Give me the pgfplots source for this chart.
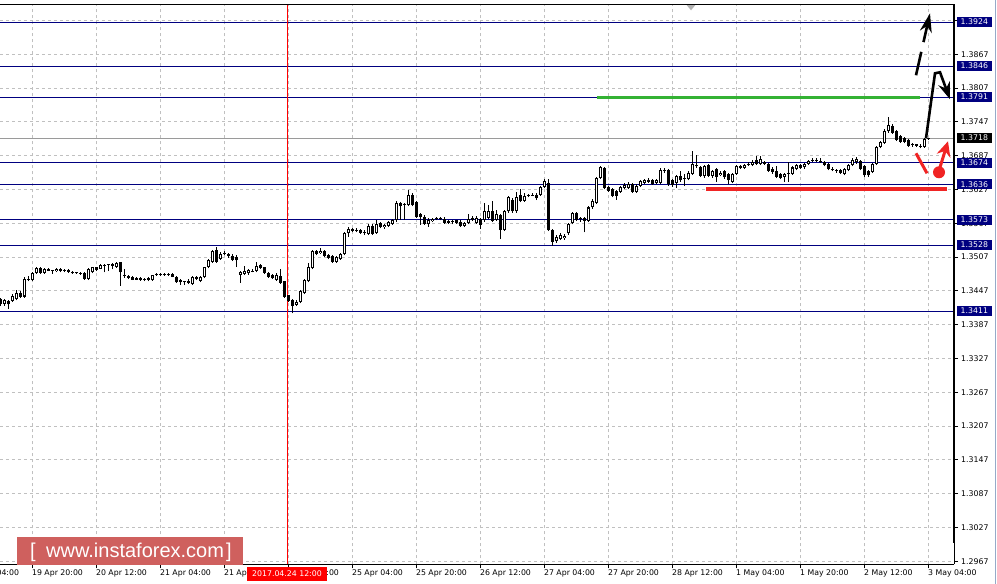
\documentclass[border=0pt]{standalone}
\usepackage{fontspec}
\setmainfont{DejaVu Sans}
\newfontfamily\lib{Liberation Sans}
\usepackage{pgfplots}
\pgfplotsset{compat=1.18}
\usepackage{pgfplotstable}
\usetikzlibrary{arrows.meta}
\definecolor{navy}{RGB}{0,0,128}
\definecolor{gridc}{RGB}{192,192,192}
\definecolor{wm}{RGB}{207,96,94}
\definecolor{lvlgreen}{RGB}{52,178,52}
\definecolor{lvlred}{RGB}{240,36,36}
\definecolor{frame}{RGB}{150,170,200}

\pgfplotstableread{
o h l c
1.3432 1.3434 1.3420 1.3423
1.3424 1.3433 1.3421 1.3430
1.3429 1.3431 1.3415 1.3423
1.3429 1.3441 1.3427 1.3438
1.3432 1.3448 1.3430 1.3443
1.3443 1.3446 1.3434 1.3437
1.3437 1.3471 1.3435 1.3468
1.3468 1.3474 1.3464 1.3466
1.3466 1.3481 1.3464 1.3479
1.3479 1.3490 1.3477 1.3488
1.3488 1.3490 1.3477 1.3479
1.3479 1.3488 1.3477 1.3486
1.3486 1.3487 1.3482 1.3483
1.3483 1.3484 1.3477 1.3482
1.3482 1.3488 1.3480 1.3486
1.3486 1.3488 1.3480 1.3482
1.3482 1.3486 1.3480 1.3484
1.3484 1.3485 1.3479 1.3481
1.3481 1.3482 1.3477 1.3478
1.3478 1.3481 1.3477 1.3479
1.3479 1.3480 1.3475 1.3477
1.3479 1.3481 1.3467 1.3468
1.3468 1.3487 1.3466 1.3486
1.3480 1.3490 1.3478 1.3489
1.3489 1.3490 1.3482 1.3484
1.3486 1.3494 1.3485 1.3493
1.3492 1.3495 1.3480 1.3493
1.3493 1.3495 1.3482 1.3494
1.3494 1.3496 1.3485 1.3492
1.3490 1.3498 1.3488 1.3497
1.3498 1.3499 1.3456 1.3480
1.3475 1.3485 1.3470 1.3473
1.3473 1.3475 1.3468 1.3470
1.3471 1.3473 1.3466 1.3467
1.3467 1.3472 1.3466 1.3469
1.3469 1.3472 1.3465 1.3467
1.3467 1.3470 1.3464 1.3466
1.3470 1.3471 1.3464 1.3466
1.3466 1.3476 1.3465 1.3475
1.3475 1.3478 1.3473 1.3477
1.3477 1.3478 1.3474 1.3475
1.3475 1.3479 1.3474 1.3477
1.3477 1.3478 1.3474 1.3476
1.3477 1.3479 1.3471 1.3472
1.3472 1.3473 1.3461 1.3462
1.3466 1.3468 1.3458 1.3462
1.3462 1.3465 1.3457 1.3463
1.3465 1.3468 1.3459 1.3461
1.3459 1.3474 1.3457 1.3471
1.3471 1.3474 1.3466 1.3468
1.3465 1.3474 1.3462 1.3471
1.3471 1.3490 1.3469 1.3489
1.3489 1.3503 1.3487 1.3501
1.3499 1.3520 1.3497 1.3517
1.3519 1.3525 1.3497 1.3499
1.3504 1.3516 1.3502 1.3513
1.3513 1.3517 1.3510 1.3512
1.3512 1.3514 1.3506 1.3509
1.3509 1.3512 1.3500 1.3502
1.3507 1.3510 1.3489 1.3501
1.3475 1.3482 1.3461 1.3480
1.3477 1.3491 1.3475 1.3483
1.3478 1.3486 1.3476 1.3484
1.3483 1.3485 1.3480 1.3481
1.3482 1.3498 1.3480 1.3491
1.3493 1.3495 1.3486 1.3488
1.3489 1.3490 1.3477 1.3479
1.3479 1.3481 1.3470 1.3472
1.3475 1.3477 1.3468 1.3469
1.3467 1.3478 1.3465 1.3475
1.3473 1.3485 1.3460 1.3461
1.3464 1.3465 1.3435 1.3437
1.3439 1.3440 1.3427 1.3429
1.3431 1.3433 1.3407 1.3421
1.3422 1.3431 1.3420 1.3428
1.3427 1.3448 1.3425 1.3446
1.3443 1.3468 1.3441 1.3466
1.3464 1.3497 1.3462 1.3489
1.3487 1.3520 1.3485 1.3517
1.3517 1.3520 1.3510 1.3513
1.3514 1.3523 1.3512 1.3518
1.3518 1.3520 1.3508 1.3509
1.3511 1.3513 1.3503 1.3505
1.3509 1.3510 1.3497 1.3499
1.3499 1.3509 1.3497 1.3507
1.3503 1.3514 1.3502 1.3512
1.3512 1.3552 1.3510 1.3549
1.3549 1.3560 1.3543 1.3557
1.3556 1.3559 1.3551 1.3553
1.3553 1.3558 1.3551 1.3555
1.3555 1.3556 1.3548 1.3550
1.3550 1.3555 1.3546 1.3552
1.3548 1.3566 1.3546 1.3563
1.3563 1.3566 1.3547 1.3548
1.3549 1.3572 1.3548 1.3566
1.3567 1.3570 1.3558 1.3560
1.3560 1.3566 1.3557 1.3564
1.3563 1.3571 1.3560 1.3569
1.3566 1.3575 1.3564 1.3573
1.3572 1.3606 1.3570 1.3603
1.3603 1.3605 1.3573 1.3597
1.3599 1.3603 1.3573 1.3601
1.3599 1.3626 1.3597 1.3617
1.3617 1.3620 1.3597 1.3599
1.3605 1.3607 1.3577 1.3579
1.3584 1.3586 1.3564 1.3578
1.3579 1.3581 1.3564 1.3566
1.3565 1.3576 1.3561 1.3573
1.3571 1.3577 1.3569 1.3575
1.3575 1.3578 1.3572 1.3574
1.3574 1.3578 1.3572 1.3575
1.3575 1.3578 1.3566 1.3568
1.3571 1.3573 1.3566 1.3568
1.3570 1.3572 1.3565 1.3569
1.3572 1.3573 1.3566 1.3567
1.3570 1.3572 1.3560 1.3562
1.3562 1.3569 1.3560 1.3567
1.3567 1.3584 1.3565 1.3575
1.3576 1.3580 1.3571 1.3573
1.3568 1.3580 1.3566 1.3577
1.3575 1.3577 1.3557 1.3564
1.3573 1.3603 1.3570 1.3588
1.3577 1.3600 1.3575 1.3588
1.3588 1.3606 1.3569 1.3571
1.3573 1.3590 1.3571 1.3583
1.3582 1.3584 1.3539 1.3555
1.3555 1.3591 1.3553 1.3589
1.3588 1.3615 1.3586 1.3613
1.3609 1.3611 1.3586 1.3588
1.3588 1.3622 1.3586 1.3613
1.3617 1.3628 1.3604 1.3606
1.3607 1.3620 1.3605 1.3615
1.3617 1.3619 1.3613 1.3616
1.3616 1.3620 1.3615 1.3618
1.3618 1.3620 1.3608 1.3611
1.3618 1.3633 1.3616 1.3631
1.3631 1.3646 1.3629 1.3642
1.3639 1.3645 1.3553 1.3555
1.3555 1.3557 1.3527 1.3534
1.3535 1.3546 1.3532 1.3543
1.3539 1.3550 1.3537 1.3547
1.3540 1.3548 1.3538 1.3545
1.3549 1.3567 1.3547 1.3565
1.3567 1.3587 1.3565 1.3585
1.3585 1.3587 1.3571 1.3573
1.3575 1.3578 1.3570 1.3574
1.3577 1.3579 1.3551 1.3571
1.3571 1.3598 1.3569 1.3595
1.3595 1.3610 1.3593 1.3606
1.3603 1.3650 1.3601 1.3647
1.3647 1.3669 1.3645 1.3667
1.3665 1.3667 1.3627 1.3629
1.3631 1.3633 1.3623 1.3625
1.3627 1.3629 1.3613 1.3615
1.3624 1.3626 1.3609 1.3615
1.3623 1.3633 1.3621 1.3631
1.3630 1.3638 1.3628 1.3635
1.3629 1.3640 1.3627 1.3637
1.3637 1.3639 1.3621 1.3623
1.3623 1.3636 1.3621 1.3633
1.3633 1.3644 1.3631 1.3642
1.3639 1.3645 1.3637 1.3643
1.3643 1.3647 1.3639 1.3641
1.3643 1.3646 1.3635 1.3637
1.3638 1.3645 1.3636 1.3643
1.3639 1.3665 1.3637 1.3661
1.3660 1.3665 1.3656 1.3661
1.3661 1.3663 1.3634 1.3636
1.3643 1.3645 1.3631 1.3635
1.3639 1.3653 1.3630 1.3651
1.3651 1.3660 1.3641 1.3643
1.3645 1.3655 1.3633 1.3647
1.3645 1.3659 1.3643 1.3657
1.3655 1.3696 1.3653 1.3672
1.3671 1.3689 1.3665 1.3668
1.3666 1.3668 1.3649 1.3651
1.3650 1.3670 1.3648 1.3668
1.3670 1.3672 1.3649 1.3651
1.3651 1.3662 1.3648 1.3660
1.3663 1.3665 1.3640 1.3649
1.3652 1.3660 1.3650 1.3657
1.3660 1.3662 1.3646 1.3649
1.3655 1.3657 1.3637 1.3643
1.3640 1.3657 1.3638 1.3655
1.3655 1.3671 1.3653 1.3669
1.3668 1.3671 1.3663 1.3665
1.3665 1.3672 1.3663 1.3670
1.3671 1.3675 1.3669 1.3672
1.3670 1.3679 1.3668 1.3675
1.3680 1.3686 1.3670 1.3672
1.3672 1.3686 1.3670 1.3681
1.3675 1.3677 1.3670 1.3673
1.3672 1.3674 1.3658 1.3660
1.3664 1.3666 1.3655 1.3658
1.3660 1.3669 1.3647 1.3649
1.3655 1.3657 1.3645 1.3648
1.3649 1.3657 1.3640 1.3655
1.3655 1.3675 1.3640 1.3656
1.3655 1.3668 1.3653 1.3666
1.3663 1.3672 1.3661 1.3670
1.3670 1.3672 1.3663 1.3665
1.3666 1.3674 1.3664 1.3672
1.3672 1.3680 1.3670 1.3678
1.3678 1.3683 1.3676 1.3680
1.3680 1.3683 1.3676 1.3678
1.3678 1.3682 1.3674 1.3676
1.3676 1.3678 1.3668 1.3670
1.3672 1.3674 1.3661 1.3663
1.3664 1.3666 1.3659 1.3661
1.3661 1.3663 1.3657 1.3660
1.3661 1.3663 1.3654 1.3656
1.3654 1.3665 1.3652 1.3663
1.3661 1.3672 1.3659 1.3670
1.3670 1.3682 1.3668 1.3679
1.3675 1.3684 1.3673 1.3681
1.3678 1.3680 1.3661 1.3663
1.3668 1.3670 1.3649 1.3652
1.3660 1.3662 1.3649 1.3652
1.3658 1.3674 1.3656 1.3672
1.3672 1.3705 1.3670 1.3703
1.3703 1.3713 1.3700 1.3711
1.3710 1.3734 1.3708 1.3731
1.3730 1.3756 1.3728 1.3741
1.3740 1.3743 1.3726 1.3728
1.3730 1.3732 1.3713 1.3715
1.3722 1.3724 1.3710 1.3712
1.3718 1.3720 1.3709 1.3712
1.3714 1.3716 1.3703 1.3705
1.3707 1.3710 1.3703 1.3706
1.3706 1.3708 1.3702 1.3705
1.3704 1.3707 1.3700 1.3702
1.3703 1.3718 1.3701 1.3716
1.3716 1.3719 1.3715 1.3718
}\candles

\begin{document}
\begin{tikzpicture}[x=1pt,y=1pt]
\fill[white] (0,0) rectangle (997,584);
\begin{axis}[
  at={(0,35)}, anchor=south west,
  scale only axis, width=954pt, height=560pt,
  xmin=-0.1, xmax=238.4, ymin=1.29617, ymax=1.39557,
  clip=false,
  axis x line*=bottom, axis y line*=right,
  axis line style={black, line width=0.8pt},
  tick align=outside, major tick length=4pt,
  tick style={black, line width=0.8pt},
  xtick={8,24,...,232},
  xticklabels={19 Apr 20:00,20 Apr 12:00,21 Apr 04:00,21 Apr 20:00,24 Apr 12:00,25 Apr 04:00,25 Apr 20:00,26 Apr 12:00,27 Apr 04:00,27 Apr 20:00,28 Apr 12:00,1 May 04:00,1 May 20:00,2 May 12:00,3 May 04:00},
  ytick={1.2967,1.3027,1.3087,1.3147,1.3207,1.3267,1.3327,1.3387,1.3447,1.3507,1.3567,1.3627,1.3687,1.3747,1.3807,1.3867,1.3927},
  scaled y ticks=false,
  /pgf/number format/assume math mode=true,
  yticklabel style={/pgf/number format/fixed, /pgf/number format/fixed zerofill, /pgf/number format/precision=4, anchor=west, inner sep=0pt, xshift=3pt},
  xticklabel style={anchor=north west, inner sep=0pt, yshift=-1pt, xshift=-0.5pt},
  tick label style={font=\fontsize{7.8}{9}\selectfont, text=black},
  xmajorgrids, ymajorgrids,
  major grid style={gridc, dash pattern=on 3pt off 3pt, line width=0.8pt},
]
% level lines
\pgfplotsinvokeforeach{1.3924,1.3846,1.3791,1.3674,1.3636,1.3573,1.3528,1.3411}{
  \addplot[navy, line width=1pt, forget plot] coordinates {(-0.1,#1) (238.4,#1)};
}
\addplot[gridc!80!black, line width=0.8pt, forget plot] coordinates {(-0.1,1.3718) (238.4,1.3718)};
% red time line
\addplot[red, line width=0.8pt, forget plot] coordinates {(71.65,1.29617) (71.65,1.39557)};
% wicks
\addplot[draw=none, mark=none, forget plot, error bars/.cd, y dir=plus, y explicit, error mark=none,
  error bar style={draw=black, line width=0.9pt}]
  table[x expr=\coordindex, y=l, y error plus expr={\thisrow{h}-\thisrow{l}}] {\candles};
% bodies
\addplot[draw=none, mark=none, forget plot, error bars/.cd, y dir=plus, y explicit, error mark=none,
  error bar style={draw=black, line width=3pt}]
  table[x expr=\coordindex, y expr={min(\thisrow{o},\thisrow{c})}, y error plus expr={max(abs(\thisrow{c}-\thisrow{o}),0.00018)}] {\candles};
% hollow interior of rising candles
\addplot[draw=none, mark=none, forget plot, error bars/.cd, y dir=plus, y explicit, error mark=none,
  error bar style={draw=white, line width=1.2pt}]
  table[x expr=\coordindex, y expr={\thisrow{o}+0.00018}, y error plus expr={max(\thisrow{c}-\thisrow{o}-0.00036,0)}] {\candles};
% annotations
\addplot[lvlgreen, line width=3.5pt, forget plot] coordinates {(149.15,1.3790) (229.9,1.3790)};
\addplot[lvlred, line width=4pt, forget plot] coordinates {(176.4,1.36273) (236.65,1.36273)};
\draw[black, line width=2.6pt, line join=miter, -{Stealth[length=17pt, width=12pt]}]
  (axis cs:231.4,1.37178) -- (axis cs:233.65,1.38332) -- (axis cs:234.9,1.38350) -- (axis cs:237.4,1.37871);
\draw[black, line width=2.6pt, dash pattern=on 24pt off 10pt, -{Stealth[length=19pt, width=12pt]}]
  (axis cs:228.9,1.38297) -- (axis cs:232.4,1.39397);
\draw[lvlred, line width=3pt] (axis cs:228.9,1.36912) -- (axis cs:231.65,1.36557);
\fill[lvlred] (axis cs:234.65,1.36575) circle[radius=6pt];
\draw[lvlred, line width=3pt, -{Stealth[length=15pt, width=14pt]}] (axis cs:234.9,1.36664) -- (axis cs:236.9,1.37125);
\fill[gray!60] (axis cs:171.4,1.39557) -- (axis cs:173.9,1.39557) -- (axis cs:172.65,1.3945) -- cycle;
% frame lines
\draw[black, line width=0.8pt] (rel axis cs:0,1) -- (rel axis cs:1,1);
\draw[black, line width=2.5pt] (rel axis cs:1,1) -- (axis cs:238.4,1.2999);
% first, cut-off date label
\node[anchor=north west, inner sep=0pt, font=\fontsize{7.8}{9}\selectfont] at (axis cs:-8.1,1.29617) [yshift=-5pt] {19 Apr 04:00};
% level labels
\pgfplotsinvokeforeach{1.3924,1.3846,1.3791,1.3674,1.3636,1.3573,1.3528,1.3411}{
  \node[fill=navy, text=white, anchor=west, inner xsep=3.5pt, inner ysep=2pt, text height=5.8pt, text depth=0.3pt,
    font=\fontsize{7.8}{9}\selectfont] at (axis cs:238.4,#1) [xshift=3pt] {#1};
}
\node[fill=black, text=white, anchor=west, inner xsep=3.5pt, inner ysep=2pt, text height=5.8pt, text depth=0.3pt,
    font=\fontsize{7.8}{9}\selectfont] at (axis cs:238.4,1.3718) [xshift=3pt] {1.3718};
\node[fill=red, text=white, anchor=north, inner xsep=5pt, inner ysep=3.5pt, text height=5.8pt, text depth=0.3pt,
    font=\fontsize{7.8}{9}\selectfont] at (axis cs:71.65,1.29617) [yshift=-3pt] {2017.04.24 12:00};
\end{axis}
% watermark
\fill[wm] (17,19) rectangle (243,47);
\node[text=white, font=\lib\fontsize{20}{20}\selectfont, anchor=base] at (33,26.5) {[};
\node[text=white, font=\lib\fontsize{20}{20}\selectfont, anchor=base] at (229,26.5) {]};
\node[text=white, font=\lib\fontsize{20}{20}\selectfont, anchor=base west, inner sep=0pt] at (46,26.5) {www.instaforex.com};
\draw[frame, line width=1pt] (995.5,0) -- (995.5,584);
\pgfresetboundingbox
\path[use as bounding box] (0,0) rectangle (997,584);
\end{tikzpicture}
\end{document}
